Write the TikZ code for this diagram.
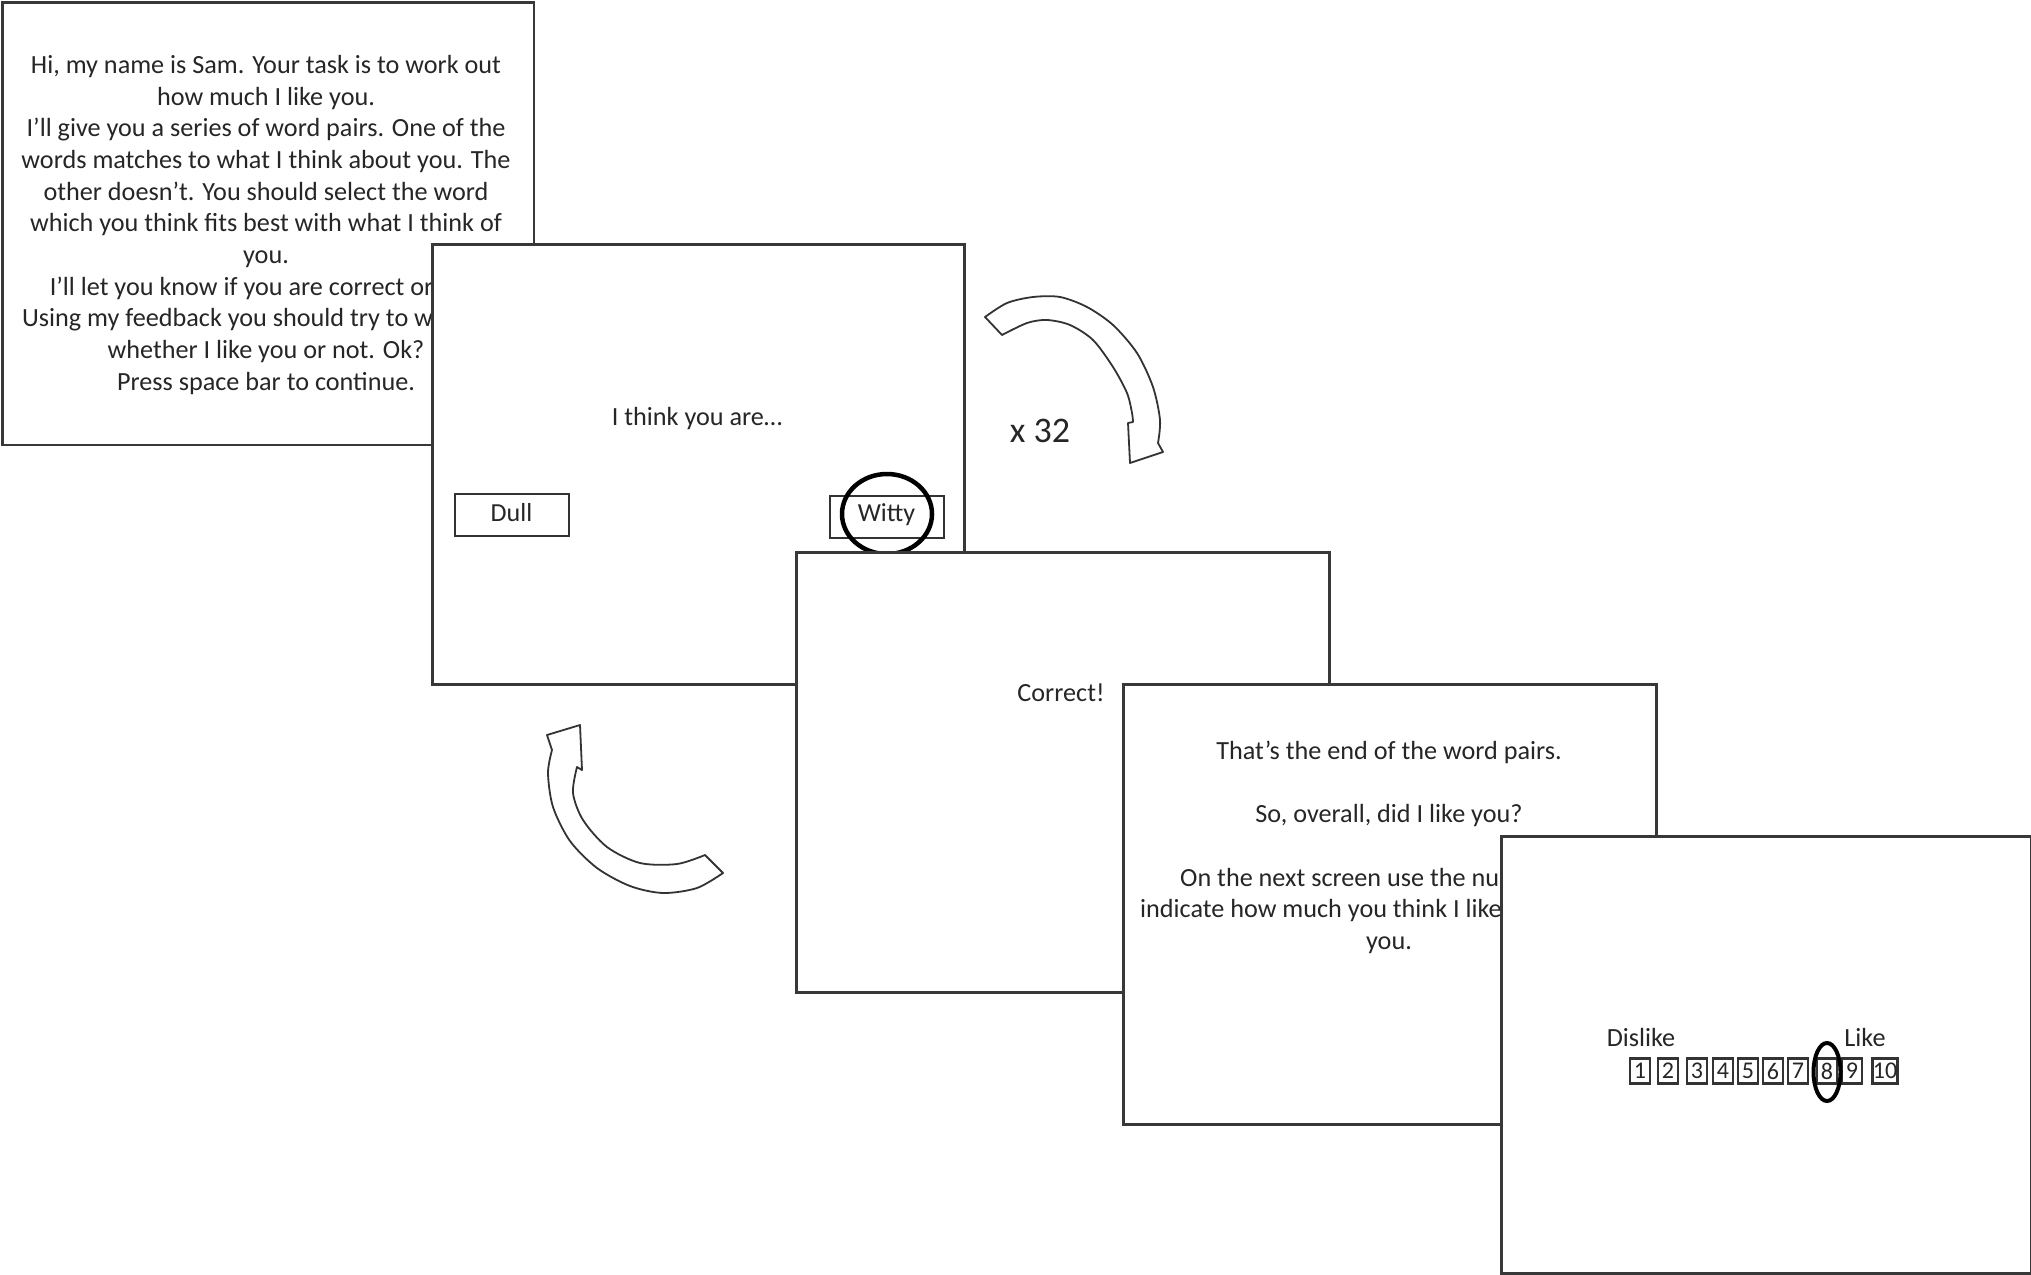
\documentclass[tikz,border=0pt]{standalone}
\usepackage{fontspec}
\setmainfont{Carlito}
\usetikzlibrary{shapes.geometric}
\begin{document}
\begin{tikzpicture}[x=1pt,y=-1pt,
  panel/.style={draw=black!78, line width=2.5pt, fill=white, inner sep=0pt, anchor=north west, minimum width=532pt, minimum height=440pt},
  txt/.style={font=\fontsize{26.2}{31.7}\selectfont, text=black!85, inner sep=0pt, align=center},
  wordbox/.style={draw=black!80, line width=2pt, minimum width=114pt, minimum height=42pt, inner sep=0pt, font=\fontsize{26}{31.7}\selectfont, text=black!85},
  numbox/.style={draw=black!80, line width=2.2pt, minimum width=20pt, minimum height=25pt, inner sep=0pt, font=\fontsize{24}{28}\selectfont, text=black!85},
  select/.style={draw=black, line width=4.5pt, ellipse, inner sep=0pt},
  loopshape/.style={draw=black!80, line width=1.8pt, fill=white, line join=round}]
\useasboundingbox (0,0) rectangle (2031,1274);
% panel 1
\node[panel, minimum width=531.5pt, minimum height=442.5pt] (p1) at (1.25,1.25) {};
\node[txt, anchor=north] (t1) at (266,55) {Hi, my name is Sam. Your task is to work out\\how much I like you.\\I’ll give you a series of word pairs. One of the\\words matches to what I think about you. The\\other doesn’t. You should select the word\\which you think fits best with what I think of\\you.\\I’ll let you know if you are correct or not.\\Using my feedback you should try to work out\\whether I like you or not. Ok?\\Press space bar to continue.};
% panel 2
\node[panel] (p2) at (431,243) {};
\node[txt, anchor=base] (t2) at (697,425) {I think you are…};
\node[wordbox] (dull) at (511.5,514.5) {\raisebox{4pt}{Dull}};
\node[wordbox] (witty) at (886.5,516.5) {\raisebox{7pt}{Witty}};
\node[select, minimum width=90pt, minimum height=80pt] (sel1) at (887,514) {};
% loop arrows
\path[loopshape] (985,317) -- plot[smooth] coordinates {(985,317) (1007,303) (1033,297) (1060,297) (1087,307) (1113,325) (1137,353) (1153,387) (1160,420) (1158,443)}
  -- (1163,452) -- (1130,463) -- (1128,423)
  -- plot[smooth] coordinates {(1133,422) (1132,413) (1127,393) (1113,367) (1093,340) (1070,325) (1047,320) (1027,323) (1002,335)} -- cycle;
\node[txt, font=\fontsize{36}{40}\selectfont] (rep) at (1040,431) {x 32};
\path[loopshape] (577,767) -- plot[smooth] coordinates {(577,767) (573,793) (583,820) (607,847) (640,863) (677,864) (705,855)}
  -- (723,873)
  -- plot[smooth] coordinates {(723,873) (697,888) (663,893) (630,886) (597,868) (570,841) (553,807) (548,773) (552,750)}
  -- (547,735) -- (580,725) -- (582,770) -- cycle;
% panel 3
\node[panel, minimum width=533pt] (p3) at (795,551) {};
\node[txt, anchor=base] (t3) at (1061,701) {Correct!};
% panel 4
\node[panel, minimum width=533pt] (p4) at (1122,683) {};
\node[txt, anchor=base] (t4a) at (1389,759.5) {That’s the end of the word pairs.};
\node[txt, anchor=base] (t4b) at (1389,822.5) {So, overall, did I like you?};
\node[txt, anchor=base west] (t4c) at (1180,886.5) {On the next screen use the numbers to};
\node[txt, anchor=base west] (t4d) at (1140,917.5) {indicate how much you think I like};
\node[txt, anchor=base] (t4e) at (1389,949.5) {you.};
% panel 5
\node[panel, minimum width=530pt, minimum height=437pt] (p5) at (1500,835) {};
\node[txt, anchor=base] (dis) at (1641,1046) {Dislike};
\node[txt, anchor=base] (lik) at (1865,1046) {Like};
\node[numbox] (n1) at (1640,1071) {1};
\node[numbox] (n2) at (1668,1071) {2};
\node[numbox] (n3) at (1697,1071) {3};
\node[numbox] (n4) at (1723,1071) {4};
\node[numbox] (n5) at (1748,1071) {5};
\node[numbox] (n6) at (1773,1071) {6};
\node[numbox] (n7) at (1798,1071) {7};
\node[numbox] (n8) at (1827,1071) {8};
\node[numbox] (n9) at (1852,1071) {9};
\node[numbox, minimum width=25pt] (n10) at (1885,1071) {10};
\node[select, line width=4pt, minimum width=27pt, minimum height=58pt] (sel2) at (1827,1072) {};
\end{tikzpicture}
\end{document}
